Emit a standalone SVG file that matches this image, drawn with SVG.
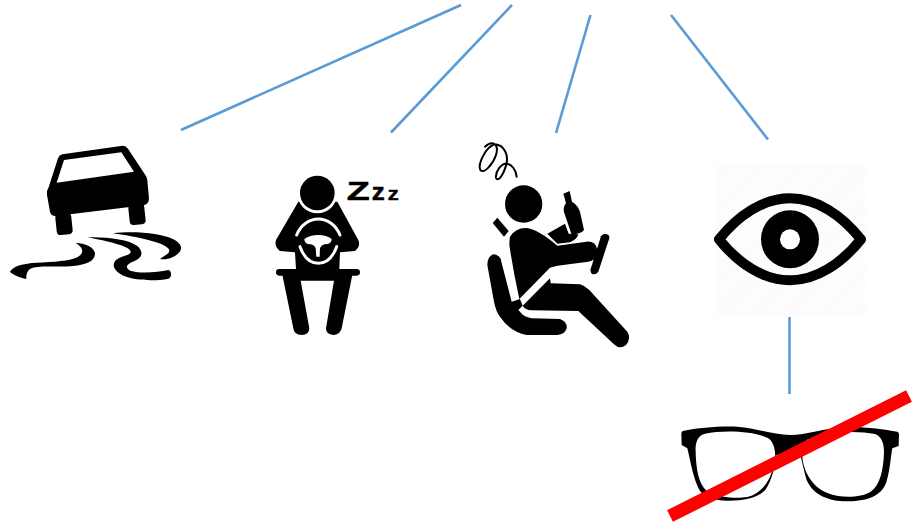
<svg xmlns="http://www.w3.org/2000/svg" width="912" height="526" viewBox="0 0 912 526">
<style>
.c{stroke:#5b9bd5;stroke-width:2.6;fill:none}
.k{fill:#000}
.w{fill:#fff}
.ws{stroke:#fff;fill:none;stroke-linecap:round}
.ks{stroke:#000;fill:none;stroke-linecap:round;stroke-linejoin:round}
</style>
<defs>
<pattern id="hatch" width="7" height="7" patternUnits="userSpaceOnUse" patternTransform="rotate(-45)">
<rect width="7" height="7" fill="#fff"/><rect width="7" height="1.5" fill="#f3f3f3"/>
</pattern>
</defs>
<rect width="912" height="526" fill="#fff"/>
<g id="connectors">
<line class="c" x1="181" y1="130" x2="461" y2="5"/>
<line class="c" x1="391" y1="132.500" x2="512" y2="5"/>
<line class="c" x1="556" y1="133" x2="590.500" y2="15"/>
<line class="c" x1="671" y1="15" x2="768" y2="139.500"/>
<line class="c" x1="789.500" y1="317" x2="789.500" y2="394"/>
</g>
<g id="car" transform="translate(0,130) scale(.3333)">
<path class="k" d="M187 73L368 47Q378 47 384 56L436 135Q441 141 442 150L447 205Q447 222 432 226L167 258Q153 258 150 245L141 195Q139 182 146 172L174 85Q178 75 187 73Z"/>
<rect class="k" x="387" y="222" width="48" height="62" rx="12" transform="rotate(-6 411 253)"/>
<rect class="k" x="168" y="250" width="48" height="64" rx="12" transform="rotate(-6 192 282)"/>
<path class="w" d="M192 90L364 67L402 125L170 158Z"/>
<path class="k" d="M226 338C255 340 286 352 285 372C284 394 258 404 220 408C180 412 120 406 97 414C84 418 78 430 79 447C60 442 38 435 30 425C40 408 70 400 110 398C160 395 210 394 235 380C255 368 248 350 226 338Z"/>
<path class="k" d="M262 322C320 320 385 328 412 348C432 366 427 384 402 394C382 402 374 410 387 420C410 432 470 428 505 420C516 423 516 442 505 446C470 453 410 453 375 439C343 425 333 405 348 390C363 378 392 376 392 365C392 350 330 335 262 322Z"/>
<path class="k" d="M338 310C400 303 480 308 520 328C547 342 550 358 532 373C520 383 500 391 480 387C496 375 512 370 507 358C492 337 420 322 338 310Z"/>
</g>
<g id="sleeping-driver" transform="translate(260,165) scale(.3333)">
<path class="k" d="M115 110L232 110L295 225Q303 245 285 258L240 262L238 312L108 312L105 262L60 258Q42 245 48 225Z"/>
<circle class="w" cx="172" cy="85" r="60"/>
<circle class="k" cx="172" cy="84" r="52"/>
<path class="ws" stroke-width="9" d="M110 210C122 180 148 162 175 162C202 162 228 180 240 210"/>
<path class="ws" stroke-width="9" d="M120 245C132 278 152 295 175 295C198 295 218 278 230 245"/>
<path class="w" d="M133 222Q150 210 175 210Q200 210 215 222Q215 238 195 238Q184 240 180 250L179 275L169 275L167 250Q163 240 152 238Q133 238 133 222Z"/>
<line class="ks" x1="58" y1="322" x2="290" y2="322" stroke-width="20"/>
<path class="k" d="M66 325L278 325L245 490Q240 510 220 510Q198 508 198 490L222 347L122 347L148 490Q148 510 125 510Q102 510 100 490Z"/>
<text transform="translate(260,105) scale(3,3)" font-family="'Liberation Sans',sans-serif" font-weight="700" font-size="25" stroke="#000" stroke-width=".5"><tspan textLength="23" lengthAdjust="spacingAndGlyphs">Z</tspan><tspan x="25" font-size="24" textLength="13" lengthAdjust="spacingAndGlyphs">z</tspan><tspan x="41" font-size="19" textLength="11" lengthAdjust="spacingAndGlyphs">z</tspan></text>
</g>
<g id="drunk-driver" transform="translate(470,135) scale(.3333)">
<path class="ks" stroke-width="6" d="M45 35C68 14 88 28 78 60C68 90 42 116 32 106C22 92 42 42 72 28C102 28 118 60 108 92C98 125 82 142 78 128C76 108 95 84 112 86C127 90 138 106 140 125"/>
<circle class="k" cx="161" cy="207" r="56"/>
<path class="k" d="M68 264L82 248L116 288L102 305Z"/>
<path class="k" d="M280 176L299 168L306 200Q326 212 331 235L342 285Q335 296 305 299L285 240Q276 220 288 204Z"/>
<path class="k" d="M232 296L285 266L296 296L325 298Q322 312 300 322L262 326Z"/>
<path class="k" d="M120 305Q140 275 175 280Q205 285 262 332L350 320Q378 318 382 345Q384 375 355 380L262 392L240 398L148 492Q130 410 118 330Q118 314 120 305Z"/>
<path class="k" d="M405 296Q420 298 418 310L385 410Q378 420 366 417Q360 410 362 402L393 304Q398 296 405 296Z"/>
<path class="k" d="M158 512L240 430L242 445L330 448Q345 452 358 465L472 590Q485 610 468 630Q450 645 432 628L325 528L185 526Q165 525 158 512Z"/>
<path class="k" d="M70 358Q92 360 94 380L125 500L150 492L158 512L145 525L150 530Q160 545 185 550L270 552Q292 560 290 580Q285 598 262 600L170 600Q120 590 90 545Q78 530 72 500L52 390Q52 365 70 358Z"/>
</g>
<g id="eye" transform="translate(700,155) scale(.3333)">
<rect x="45" y="25" width="452" height="456" fill="url(#hatch)"/>
<path fill="none" stroke="#000" stroke-width="30" stroke-linejoin="round" d="M57 253C115 180 190 130 270 130C350 130 425 180 483 253C425 325 350 376 270 376C190 376 115 325 57 253Z"/>
<circle class="k" cx="270" cy="253" r="87"/>
<circle class="w" cx="270" cy="253" r="30"/>
</g>
<g id="glasses" transform="translate(660,385) scale(.3333)">
<path class="k" fill-rule="evenodd" d="M68 138C120 128 190 122 240 126C290 130 340 150 390 150C440 150 490 130 560 126C610 124 670 132 712 140Q718 142 717 150L716 183L697 190C692 215 690 260 678 295C665 330 625 349 565 349C510 350 460 332 440 285C430 250 425 225 420 205L348 210C345 250 335 285 318 312C298 338 250 348 200 347C165 346 135 338 120 318C100 285 92 230 82 190L65 180L64 148Q64 140 68 138ZM135 146C115 150 105 170 107 200C108 250 115 295 140 318C160 336 225 342 262 336C310 325 335 280 345 225C348 195 340 170 325 160C285 138 190 135 135 146ZM445 163C430 170 423 190 428 225C434 265 460 310 508 326C540 338 600 340 632 320C660 302 670 255 672 205C673 175 665 155 645 147C590 135 490 140 445 163Z"/>
</g>
<line id="strike" x1="670" y1="516" x2="909" y2="396" stroke="#ff0000" stroke-width="13"/>
</svg>
